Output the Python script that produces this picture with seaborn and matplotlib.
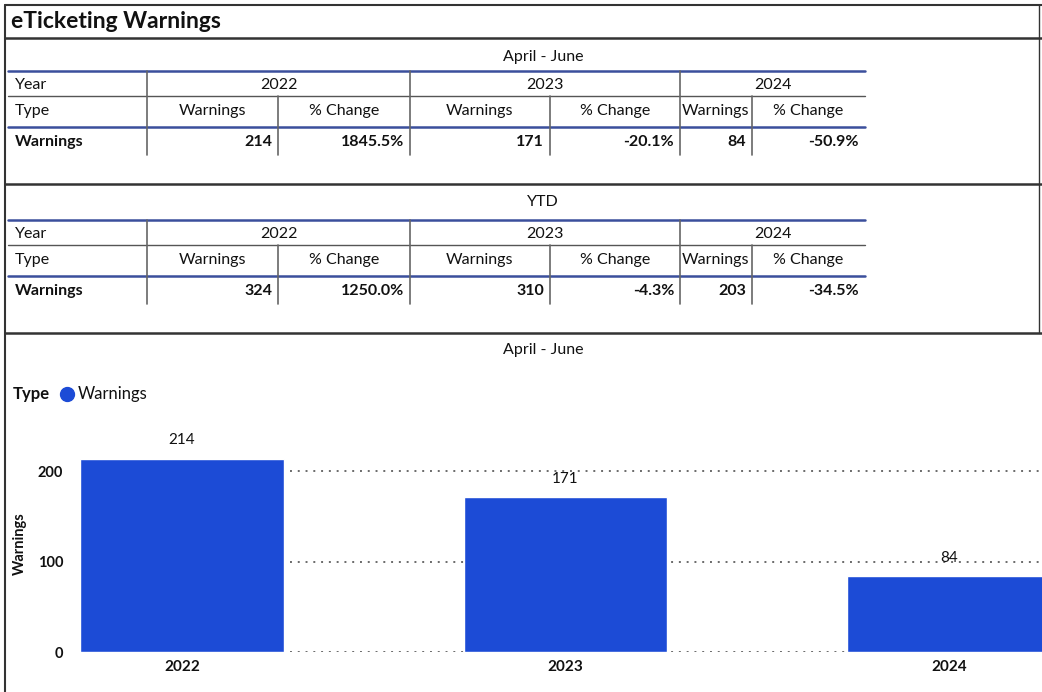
import matplotlib
matplotlib.use('Agg')
import matplotlib.pyplot as plt
import seaborn as sns

# data
years = ['2022', '2023', '2024']
apr_jun_warnings = [214, 171, 84]
apr_jun_change = ['1845.5%', '-20.1%', '-50.9%']
ytd_warnings = [324, 310, 203]
ytd_change = ['1250.0%', '-4.3%', '-34.5%']
y_ticks = [0, 100, 200]

BAR_BLUE = '#1c4bd6'
LINE_BLUE = '#3b4f9c'
GRID_GREY = '#6a6a6a'
FRAME = '#333333'
FS = 11.5

sns.set_style('white')
plt.rcParams['font.family'] = ['Lato', 'DejaVu Sans']
plt.rcParams['text.color'] = '#111111'

fig = plt.figure(figsize=(10.42, 6.92), dpi=100)

# ---- bar chart (bottom section) ----
ax = fig.add_axes([80 / 1042, (692 - 652) / 692, 962 / 1042, 217 / 692])
sns.barplot(x=years, y=apr_jun_warnings, color=BAR_BLUE, width=0.53,
            saturation=1, ax=ax)
ax.set_xlim(-0.266, 2.243)
ax.set_ylim(0, 240)
ax.set_yticks(y_ticks)
ax.set_yticklabels([str(t) for t in y_ticks], fontsize=10.5, fontweight='bold')
ax.tick_params(axis='x', labelsize=11, pad=6, length=0, labelcolor='#111111')
ax.tick_params(axis='y', pad=12, length=0, labelcolor='#111111')
for lbl in ax.get_xticklabels():
    lbl.set_fontweight('bold')
ax.set_xlabel('')
ax.set_ylabel('Warnings', fontsize=10.5, fontweight='bold', labelpad=8, color='#111111')
ax.yaxis.grid(True, linestyle=(0, (1, 3)), color=GRID_GREY, linewidth=1.4)
ax.set_axisbelow(True)
for s in ax.spines.values():
    s.set_visible(False)
ax.bar_label(ax.containers[0], padding=8, fontsize=11, color='#111111')

# ---- overlay in pixel coordinates for frames, tables, titles ----
ov = fig.add_axes([0, 0, 1, 1], zorder=5)
ov.set_xlim(0, 1042)
ov.set_ylim(692, 0)
ov.axis('off')
ov.patch.set_alpha(0)

# frames
ov.plot([5, 1042], [5, 5], color=FRAME, lw=1.5)
ov.plot([5, 5], [5, 692], color=FRAME, lw=1.5)
ov.plot([1039, 1039], [5, 333], color=FRAME, lw=1.0)
for yy in [38, 184, 333]:
    ov.plot([5, 1042], [yy, yy], color=FRAME, lw=1.8)

ov.text(11, 21, 'eTicketing Warnings', fontsize=16.5, fontweight='bold', va='center')

cols = [8, 147, 278, 410, 550, 680, 752, 865]
groups = [147, 410, 680, 865]


def draw_table(title, y_title, y0, warnings, changes):
    ov.text(543, y_title, title, fontsize=FS, ha='center', va='center')
    # horizontal rules
    ov.plot([cols[0], cols[-1]], [y0, y0], color=LINE_BLUE, lw=1.8)
    ov.plot([cols[0], cols[-1]], [y0 + 25, y0 + 25], color='#555555', lw=1.0)
    ov.plot([cols[0], cols[-1]], [y0 + 56, y0 + 56], color=LINE_BLUE, lw=1.8)
    # vertical rules
    for x in groups[:-1]:
        ov.plot([x, x], [y0, y0 + 84], color='#666666', lw=1.2)
    for x in [cols[2], cols[4], cols[6]]:
        ov.plot([x, x], [y0 + 25, y0 + 84], color='#666666', lw=1.2)
    # year row
    ov.text(15, y0 + 14, 'Year', fontsize=FS, va='center')
    for i, yr in enumerate(years):
        ov.text((groups[i] + groups[i + 1]) / 2, y0 + 14, yr, fontsize=FS,
                ha='center', va='center')
    # type row
    ov.text(15, y0 + 40, 'Type', fontsize=FS, va='center')
    for i in range(3):
        a, b, c = cols[1 + 2 * i], cols[2 + 2 * i], cols[3 + 2 * i]
        ov.text((a + b) / 2, y0 + 40, 'Warnings', fontsize=FS, ha='center', va='center')
        ov.text((b + c) / 2, y0 + 40, '% Change', fontsize=FS, ha='center', va='center')
    # data row
    ov.text(15, y0 + 71, 'Warnings', fontsize=FS, fontweight='bold', va='center')
    for i in range(3):
        b, c = cols[2 + 2 * i], cols[3 + 2 * i]
        ov.text(b - 6, y0 + 71, str(warnings[i]), fontsize=FS, fontweight='bold',
                ha='right', va='center')
        ov.text(c - 6, y0 + 71, changes[i], fontsize=FS, fontweight='bold',
                ha='right', va='center')


draw_table('April - June', 57, 71, apr_jun_warnings, apr_jun_change)
draw_table('YTD', 202, 220, ytd_warnings, ytd_change)

# chart header and legend
ov.text(543, 350, 'April - June', fontsize=FS, ha='center', va='center')
ov.text(13, 394, 'Type', fontsize=12, fontweight='bold', va='center')
ov.plot([67], [394], marker='o', markersize=10, color=BAR_BLUE)
ov.text(78, 394, 'Warnings', fontsize=12, va='center')

fig.savefig('out.png', dpi=100)
